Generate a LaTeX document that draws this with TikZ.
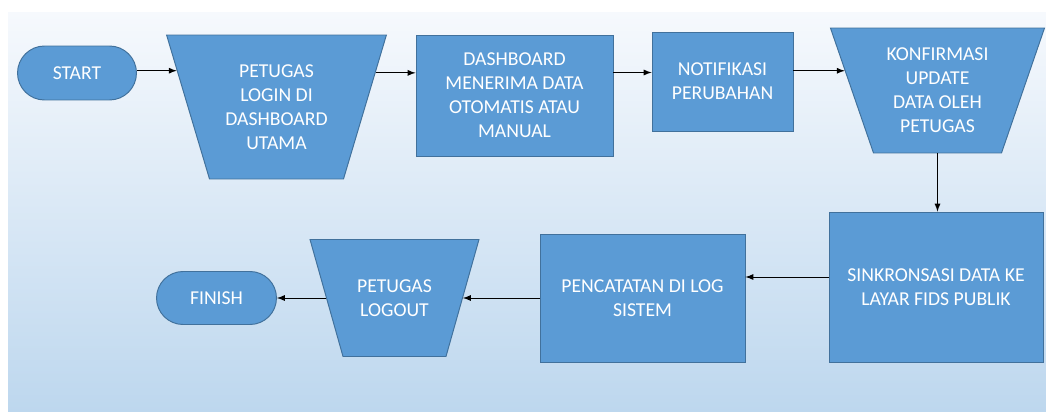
\documentclass[tikz,border=0pt]{standalone}
\usepackage{fontspec}
\setmainfont{Carlito}
\usepackage{tikz}
\usetikzlibrary{arrows,positioning,shapes.geometric,shapes.misc}

\definecolor{boxfill}{HTML}{5B9BD5}
\definecolor{boxline}{HTML}{41719C}
\definecolor{bgtop}{HTML}{F6F9FD}
\definecolor{bgbottom}{HTML}{BDD7EE}

\tikzset{
  teks/.style={text=white,align=center,inner sep=2pt,font=\fontsize{11.2}{13.7}\selectfont},
  blok/.style={teks,draw=boxline,fill=boxfill},
  terminal/.style={blok,rounded rectangle},
  proses/.style={blok,rectangle},
  manual/.style={draw=boxline,fill=boxfill,trapezium,shape border rotate=180}
}

\begin{document}
\begin{tikzpicture}[>=latex,x=0.02cm,y=-0.02cm,line width=0.55pt]
   \useasboundingbox (0,0) rectangle (1046,412);
   \shade[top color=bgtop,bottom color=bgbottom] (8,13) rectangle (1046,412);

   \coordinate (row) at (0,72.5);

   \node[terminal,minimum width=2.52cm,minimum height=1.08cm] (start) at (77,73) {START};
   \node[manual,inner xsep=1.34cm,inner ysep=1.44cm,trapezium angle=73.4] (login) at (276.5,107) {};
   \node[teks] (logintext) at (login) {PETUGAS\\LOGIN DI\\DASHBOARD\\UTAMA};
   \node[proses,minimum width=3.94cm,minimum height=2.42cm] (dash) at (514.5,95.5) {DASHBOARD\\MENERIMA DATA\\OTOMATIS ATAU\\MANUAL};
   \node[proses,minimum width=2.82cm,minimum height=1.98cm] (notif) at (722.5,81.5) {NOTIFIKASI\\PERUBAHAN};
   \node[manual,inner xsep=1.28cm,inner ysep=1.25cm,trapezium angle=71] (confirm) at (937.5,90.5) {};
   \node[teks] (confirmtext) at (confirm) {KONFIRMASI\\UPDATE\\DATA OLEH\\PETUGAS};
   \node[proses,minimum width=4.28cm,minimum height=3.00cm] (sink) at (936,287) {SINKRONSASI DATA KE\\LAYAR FIDS PUBLIK};
   \node[proses,minimum width=4.10cm,minimum height=2.56cm] (log) at (642.5,298) {PENCATATAN DI LOG\\SISTEM};
   \node[manual,inner xsep=1.03cm,inner ysep=1.17cm,trapezium angle=74.25] (logout) at (394.5,298) {};
   \node[teks] (logouttext) at (logout) {PETUGAS\\LOGOUT};
   \node[terminal,minimum width=2.54cm,minimum height=1.06cm] (finish) at (216.5,298) {FINISH};

   \draw [->] (start.east |- login.160.6) -- (login.160.6) ;
   \draw [->] (login.19.4) -- (login.19.4 -| dash.west) ;
   \draw [->] (dash.east |- row) -- (notif.west |- row) ;
   \draw [->] (notif.east |- confirm.168.6) -- (confirm.168.6) ;
   \draw [->] (confirm.south) -- (confirm.south |- sink.north) ;
   \draw [->] ([yshift=0.2cm]sink.west) -- ([yshift=0.2cm]sink.west -| log.east) ;
   \draw [->] (log.west) -- (logout.east) ;
   \draw [->] (logout.west) -- (finish.east) ;
\end{tikzpicture}
\end{document}
